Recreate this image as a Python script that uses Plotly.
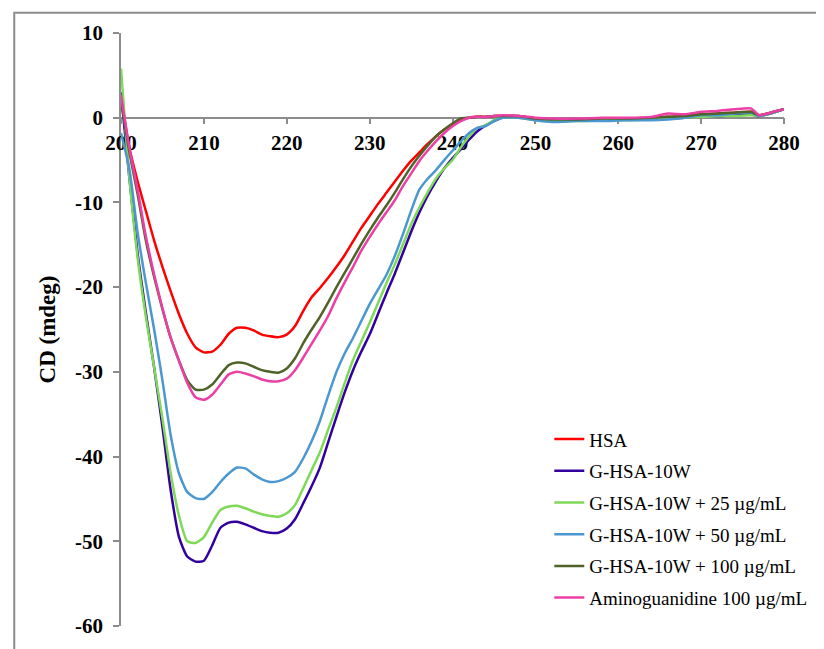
import plotly.graph_objects as go

# Wavelength grid (nm)
wavelength = list(range(200, 247)) + [248, 250, 252, 255, 258, 261, 264, 266, 268, 270, 272, 274, 276, 277, 278, 280]

hsa = [2.5, -3.5, -7.5, -11.0, -14.5, -17.6, -20.5, -23.2, -25.5, -27.1,
       -27.7, -27.6, -26.8, -25.5, -24.8, -24.8, -25.1, -25.6, -25.8, -25.9,
       -25.6, -24.6, -22.8, -21.2, -20.1, -18.9, -17.6, -16.2, -14.6, -13.0,
       -11.6, -10.2, -8.9, -7.6, -6.3, -5.1, -4.1, -3.1, -2.2, -1.4,
       -0.8, -0.2, 0.0, 0.1, 0.1, 0.2, 0.2,
       0.2, -0.1, -0.2, -0.2, -0.1, -0.1, 0.0, 0.1, 0.2, 0.4, 0.5, 0.6, 0.7, 0.3, 0.5, 1.0]

ghsa = [3.0, -7, -16, -23, -29.5, -36.5, -44, -49.5, -51.8, -52.4,
        -52.3, -50.5, -48.4, -47.8, -47.7, -48.0, -48.4, -48.8, -49.0, -49.0,
        -48.5, -47.4, -45.5, -43.5, -41.3, -38.3, -35.3, -32.4, -29.8, -27.6,
        -25.6, -23.2, -20.8, -18.5, -16.0, -13.5, -11.2, -9.2, -7.5, -6.0,
        -4.8, -3.7, -2.6, -1.6, -0.9, -0.4, 0.0,
        0.1, -0.2, -0.3, -0.3, -0.3, -0.2, -0.2, -0.1, 0.0, 0.2, 0.2, 0.3, 0.4, 0.2, 0.4, 1.0]

ghsa_25 = [5.8, -7, -16.5, -23.5, -29.5, -35.5, -42, -47, -50, -50.2,
           -49.5, -47.8, -46.3, -45.9, -45.8, -46.1, -46.5, -46.8, -47.0, -47.1,
           -46.7, -45.7, -43.7, -41.6, -39.5, -36.8, -34.2, -31.3, -28.6, -26.4,
           -24.2, -21.9, -19.6, -17.4, -15.0, -12.6, -10.6, -8.8, -7.2, -6.0,
           -5.0, -3.5, -2.2, -1.2, -0.9, -0.3, 0.0,
           0.0, -0.3, -0.4, -0.4, -0.3, -0.3, -0.2, -0.1, 0.0, 0.1, 0.2, 0.2, 0.3, 0.2, 0.4, 1.0]

ghsa_50 = [-1.8, -6, -13.5, -19.5, -25, -31, -37.5, -42, -44.2, -44.9,
           -45.0, -44.2, -43.0, -42.0, -41.3, -41.4, -42.1, -42.7, -43.0, -42.9,
           -42.5, -41.8, -40.2, -38.2, -35.8, -32.8, -30.0, -27.8, -26.0, -24.0,
           -22.0, -20.3, -18.6, -16.4, -13.8, -11.0, -8.5, -7.2, -6.2, -5.0,
           -3.9, -2.8, -1.8, -1.2, -1.0, -0.4, 0.0,
           0.0, -0.3, -0.5, -0.4, -0.4, -0.3, -0.3, -0.2, 0.0, 0.3, 0.3, 0.5, 0.6, 0.2, 0.4, 1.0]

ghsa_100 = [2.0, -4, -9, -14.5, -18.8, -22.6, -26.0, -28.7, -31.0, -32.1,
            -32.1, -31.5, -30.3, -29.2, -28.9, -29.0, -29.4, -29.8, -30.0, -30.1,
            -29.6, -28.4, -26.6, -25.0, -23.5, -21.8, -20.0, -18.3, -16.6, -14.9,
            -13.3, -11.8, -10.4, -8.9, -7.3, -5.8, -4.5, -3.3, -2.2, -1.4,
            -0.7, -0.1, 0.0, 0.1, 0.1, 0.2, 0.2,
            0.2, -0.1, -0.2, -0.2, -0.1, -0.1, 0.0, 0.1, 0.2, 0.4, 0.5, 0.6, 0.7, 0.3, 0.5, 1.0]

amino = [2.7, -3.5, -8.5, -14.0, -18.5, -22.5, -26.0, -28.7, -31.3, -33.0,
         -33.3, -32.7, -31.5, -30.3, -30.0, -30.2, -30.5, -30.9, -31.1, -31.1,
         -30.8, -29.8, -28.3, -26.7, -25.1, -23.4, -21.3, -19.4, -17.6, -15.7,
         -14.1, -12.6, -11.2, -9.8, -8.1, -6.6, -5.1, -3.9, -2.8, -1.8,
         -1.0, -0.4, 0.0, 0.1, 0.1, 0.2, 0.3,
         0.2, 0.0, -0.1, -0.1, 0.0, 0.0, 0.1, 0.5, 0.4, 0.7, 0.8, 1.0, 1.1, 0.3, 0.5, 1.0]

series_names = ["HSA", "G-HSA-10W", "G-HSA-10W + 25 µg/mL", "G-HSA-10W + 50 µg/mL",
                "G-HSA-10W + 100 µg/mL", "Aminoguanidine 100 µg/mL"]
series_values = [hsa, ghsa, ghsa_25, ghsa_50, ghsa_100, amino]
series_colors = ["#FF0000", "#3300A0", "#7ED957", "#4A98CF", "#4F6228", "#EC3FA6"]

x_ticks = [200, 210, 220, 230, 240, 250, 260, 270, 280]
y_ticks = [10, 0, -10, -20, -30, -40, -50, -60]

fig = go.Figure()
for i, (name, vals, col) in enumerate(zip(series_names, series_values, series_colors)):
    fig.add_trace(go.Scatter(
        x=wavelength, y=vals, mode="lines", name=name,
        line=dict(color=col, width=2.5, shape="spline", smoothing=0.6),
        legendgroup=f"g{i}",
    ))

serif = "Liberation Serif, Times New Roman, serif"

fig.update_layout(
    width=816, height=641,
    margin=dict(l=113, r=21, t=25, b=23),
    paper_bgcolor="white", plot_bgcolor="white",
    font=dict(family=serif, color="black"),
    showlegend=True,
    legend=dict(
        x=0.646, y=0.347, xanchor="left", yanchor="top",
        font=dict(family=serif, size=19, color="black"),
        tracegroupgap=4, bgcolor="rgba(0,0,0,0)",
    ),
    xaxis=dict(
        range=[200, 280], tickvals=x_ticks, ticktext=[str(v) for v in x_ticks],
        anchor="free", position=60 / 70, automargin=False,
        showline=True, linecolor="#8C8C8C", linewidth=1.5,
        ticks="outside", ticklen=6, tickcolor="#8C8C8C", tickwidth=1.5,
        tickfont=dict(family=serif, size=21, color="black", weight="bold"),
        showgrid=False, zeroline=False, layer="below traces",
    ),
    yaxis=dict(
        range=[-60, 10], tickvals=y_ticks, ticktext=[str(v) for v in y_ticks],
        automargin=False, ticklabelstandoff=6,
        showline=True, linecolor="#8C8C8C", linewidth=1.5,
        ticks="outside", ticklen=6, tickcolor="#8C8C8C", tickwidth=1.5,
        tickfont=dict(family=serif, size=21, color="black", weight="bold"),
        showgrid=False, zeroline=False, layer="below traces",
        title=dict(text="CD (mdeg)", font=dict(family=serif, size=23, color="black", weight="bold"), standoff=13),
    ),
    shapes=[dict(type="rect", xref="paper", yref="paper",
                 x0=-0.161, x1=1.2, y0=-0.2, y1=1.034,
                 line=dict(color="#8C8C8C", width=2), layer="below")],
)

fig.write_html("out.html")
